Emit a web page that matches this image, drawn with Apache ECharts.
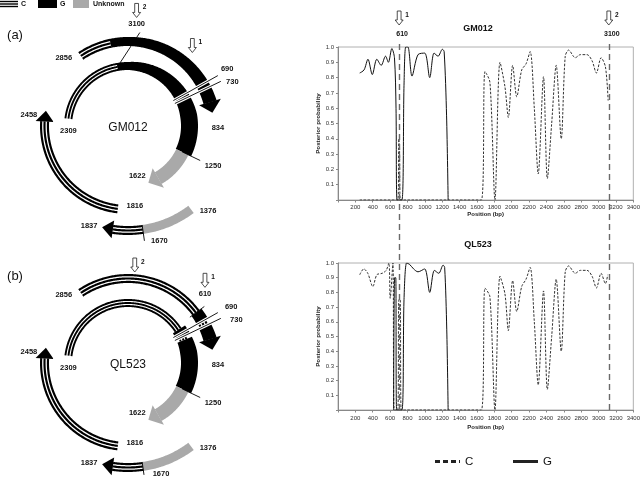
<!DOCTYPE html>
<html>
<head>
<meta charset="utf-8">
<script src="https://cdn.jsdelivr.net/npm/echarts@6/dist/echarts.min.js"></script>
<style>
html,body{margin:0;padding:0;background:#fff;}
#chart{width:643px;height:479px;}
</style>
</head>
<body>
<div id="chart"></div>
<script>
// ================= DATA: posterior probability curves =================
const gmC_pos  = [250, 690, 700, 708, 718, 1650, 1692, 1749, 1807, 1865, 1922, 1961, 2011, 2058, 2115, 2165, 2212, 2260, 2305, 2366, 2410, 2460, 2512, 2570, 2616, 2655, 2732, 2790, 2867, 2925, 2975, 3029, 3079, 3110];
const gmC_prob = [0, 0, 0.40, 0.35, 0, 0, 0.84, 0.77, 0, 0.90, 0.74, 0.54, 0.88, 0.675, 0.85, 0.89, 0.97, 0.60, 0.17, 0.806, 0.14, 0.50, 0.88, 0.40, 0.94, 0.98, 0.93, 0.95, 0.95, 0.91, 0.83, 0.93, 0.87, 0.65];
const gmG_pos  = [250, 300, 345, 395, 447, 497, 547, 580, 620, 650, 668, 680, 735, 760, 780, 805, 852, 921, 998, 1056, 1106, 1152, 1202, 1222, 1250, 1268];
const gmG_prob = [0.83, 0.85, 0.92, 0.82, 0.92, 0.88, 0.94, 0.90, 0.99, 0.93, 0.60, 0, 0, 0.75, 1.0, 1.0, 0.81, 0.95, 0.96, 0.80, 0.96, 0.94, 0.985, 0.97, 0.55, 0];
const qlC_pos  = [250, 297, 343, 401, 447, 509, 555, 586, 601, 632, 648, 688, 700, 716, 728, 1650, 1692, 1749, 1807, 1865, 1922, 1961, 2011, 2058, 2115, 2165, 2212, 2260, 2305, 2366, 2410, 2460, 2512, 2570, 2616, 2655, 2732, 2790, 2867, 2925, 2975, 3029, 3079, 3105];
const qlC_prob = [0.92, 0.96, 0.93, 0.84, 0.92, 0.93, 0.95, 1.0, 0.76, 1.0, 0, 0, 0.75, 0.75, 0, 0, 0.83, 0.77, 0, 0.91, 0.79, 0.54, 0.88, 0.67, 0.84, 0.89, 0.97, 0.60, 0.17, 0.81, 0.14, 0.50, 0.89, 0.40, 0.94, 0.98, 0.93, 0.95, 0.95, 0.91, 0.83, 0.93, 0.86, 0.92];
const qlG_pos  = [640, 652, 665, 675, 735, 760, 790, 825, 870, 921, 998, 1056, 1110, 1160, 1210, 1228, 1252, 1268];
const qlG_prob = [0, 0.90, 0.90, 0, 0, 0.75, 1.0, 0.99, 0.96, 0.94, 0.96, 0.80, 0.95, 0.93, 0.985, 0.97, 0.55, 0];

const xTickLabels = [200, 400, 600, 800, 1000, 1200, 1400, 1600, 1800, 2000, 2200, 2400, 2600, 2800, 3000, 3200, 3400];
const yTickLabels = ['0.1', '0.2', '0.3', '0.4', '0.5', '0.6', '0.7', '0.8', '0.9', '1.0'];
const breakpointPos  = [700, 3100];
const breakpointText = ['610', '3100'];
const breakpointNum  = ['1', '2'];
const sampleNames = ['GM012', 'QL523'];

// ================= DATA: genome maps (start, end, type) =================
const GENOME_LEN = 3215;
const gmOuter  = [[2856, 3100, 'C'], [3100, 834, 'G']];
const gmInner  = [[2309, 3100, 'C'], [3100, 1250, 'G'], [1250, 1622, 'U']];
const gmLeft   = [[1816, 2458, 'C']];
const gmBottom = [[1376, 1670, 'U'], [1670, 1837, 'C']];
const qlOuter  = [[2856, 610, 'C'], [610, 690, 'G'], [690, 730, 'C'], [730, 834, 'G']];
const qlInner  = [[2309, 610, 'C'], [610, 690, 'G'], [690, 730, 'C'], [730, 1250, 'G'], [1250, 1622, 'U']];
const qlLeft   = [[1816, 2458, 'C']];
const qlBottom = [[1376, 1670, 'U'], [1670, 1837, 'C']];

// ================= LAYOUT =================
const FONT = '"Liberation Sans", Arial, sans-serif';
const RING_KEYS = ['outer', 'inner', 'left', 'bottom'];
// angular scale of each ring of the (schematic) map: deg per bp, anchored at a position/angle
const RINGS = {
  outer:  {rIn: 80,  rOut: 89,  grow: [1.5, 3.5], uPad: [0, 0],   slope: 0.09025, aPos: 3547,   aAng: 388.4},
  inner:  {rIn: 56,  rOut: 64,  grow: [3, 6],     uPad: [2.5, 3], slope: 0.0921,  aPos: 3723,   aAng: 407.2},
  left:   {rIn: 79,  rOut: 88,  grow: [0, 0],     uPad: [0, 0],   slope: 0.134,   aPos: 1816,   aAng: 187},
  bottom: {rIn: 100, rOut: 109, grow: [0, 0],     uPad: [0, 0],   slope: 0.0985,  aPos: 1627.7, aAng: 167.7}
};
const ARROW_LEN = 11, ARROW_FLARE = 4.5;

const MAPS = [
  {name: sampleNames[0], tag: '(a)', tagPos: [15, 35], center: [128, 126],
   rings: {outer: gmOuter, inner: gmInner, left: gmLeft, bottom: gmBottom},
   ann: [
     {ring: 'inner', kind: 'leader', pos: 3100, r0: 60, r1: 97, dx1: 29, dy1: 2},
     {ring: 'outer', kind: 'leader', pos: 690, r0: 52, r1: 103, white: true},
     {ring: 'outer', kind: 'leader', pos: 730, r0: 52, r1: 103, white: true},
     {ring: 'inner', kind: 'leader', pos: 1250, r0: 60, r1: 80},
     {ring: 'bottom', kind: 'leader', pos: 1670, r0: 100, r1: 116},
     {ring: 'outer', kind: 'label', pos: 2856, r: 84.5, dx: -17, dy: 2},
     {ring: 'outer', kind: 'label', pos: 3100, r: 103, dx: 30, dy: -1},
     {ring: 'outer', kind: 'label', pos: 690, r: 108, dx: 5, dy: -4},
     {ring: 'outer', kind: 'label', pos: 730, r: 108, dx: 7, dy: 3},
     {ring: 'outer', kind: 'label', pos: 834, tip: true, r: 86, dx: 5, dy: 15},
     {ring: 'inner', kind: 'label', pos: 1250, r: 92, dx: 2},
     {ring: 'inner', kind: 'label', pos: 1622, tip: true, r: 60, dx: -11, dy: -7},
     {ring: 'inner', kind: 'label', pos: 2309, r: 60, dy: 12},
     {ring: 'left', kind: 'label', pos: 2458, tip: true, r: 83.5, dx: -17, dy: 4},
     {ring: 'left', kind: 'label', pos: 1816, r: 83.5, dx: 17, dy: -3},
     {ring: 'bottom', kind: 'label', pos: 1376, r: 104.5, dx: 17, dy: 2},
     {ring: 'bottom', kind: 'label', pos: 1837, tip: true, r: 104.5, dx: -13, dy: -1},
     {ring: 'bottom', kind: 'label', pos: 1670, r: 116, dx: 15, dy: 0},
     {ring: 'outer', kind: 'arrow', pos: 3100, r: 113, dx: 32, dy: 2, num: breakpointNum[1]},
     {ring: 'outer', kind: 'arrow', pos: 610, r: 100, dx: -16, dy: -14, num: breakpointNum[0]}
   ]},
  {name: sampleNames[1], tag: '(b)', tagPos: [15, 276], center: [128, 363],
   rings: {outer: qlOuter, inner: qlInner, left: qlLeft, bottom: qlBottom},
   ann: [
     {ring: 'outer', kind: 'leader', pos: 610, r0: 77, r1: 95},
     {ring: 'outer', kind: 'leader', pos: 690, r0: 52, r1: 103, white: true},
     {ring: 'outer', kind: 'leader', pos: 730, r0: 52, r1: 103, white: true},
     {ring: 'inner', kind: 'leader', pos: 1250, r0: 60, r1: 80},
     {ring: 'bottom', kind: 'leader', pos: 1670, r0: 100, r1: 113},
     {ring: 'outer', kind: 'label', pos: 2856, r: 84.5, dx: -17, dy: 2},
     {ring: 'outer', kind: 'label', pos: 610, r: 102, dx: -5, dy: -8},
     {ring: 'outer', kind: 'label', pos: 690, r: 108, dx: 9, dy: -3},
     {ring: 'outer', kind: 'label', pos: 730, r: 108, dx: 11, dy: 4},
     {ring: 'outer', kind: 'label', pos: 834, tip: true, r: 86, dx: 5, dy: 15},
     {ring: 'inner', kind: 'label', pos: 1250, r: 92, dx: 2},
     {ring: 'inner', kind: 'label', pos: 1622, tip: true, r: 60, dx: -11, dy: -7},
     {ring: 'inner', kind: 'label', pos: 2309, r: 60, dy: 12},
     {ring: 'left', kind: 'label', pos: 2458, tip: true, r: 83.5, dx: -17, dy: 4},
     {ring: 'left', kind: 'label', pos: 1816, r: 83.5, dx: 17, dy: -3},
     {ring: 'bottom', kind: 'label', pos: 1376, r: 104.5, dx: 17, dy: 2},
     {ring: 'bottom', kind: 'label', pos: 1837, tip: true, r: 104.5, dx: -13, dy: -1},
     {ring: 'bottom', kind: 'label', pos: 1670, r: 113, dx: 17, dy: -1},
     {ring: 'outer', kind: 'arrow', pos: 3100, r: 93, dx: 26, num: breakpointNum[1]},
     {ring: 'outer', kind: 'arrow', pos: 610, r: 102, dx: -5, dy: -15, num: breakpointNum[0]}
   ]}
];

// ================= helpers =================
function axisRange(ring) {
  const span = 360 / ring.slope;
  const min = ring.aPos - 180 / ring.slope;
  let start = 270 - ring.aAng;
  while (start < 0) start += 360;
  while (start >= 360) start -= 360;
  return {min: min, max: min + span, startAngle: start};
}
function unwrap(p, rng) {
  let v = p;
  while (v < rng.min) v += GENOME_LEN;
  while (v > rng.max) v -= GENOME_LEN;
  return v;
}
function taperF(a) {
  let th = a + Math.PI / 2;
  th = Math.atan2(Math.sin(th), Math.cos(th));
  return Math.max(0, Math.min(1, th / (80 * Math.PI / 180)));
}
function band(cx, cy, a0, a1, fin, fout, fill) {
  const n = Math.max(6, Math.ceil((a1 - a0) / 0.012));
  const pts = [];
  for (let i = 0; i <= n; i++) { const a = a0 + (a1 - a0) * i / n; const r = fout(a); pts.push([cx + r * Math.cos(a), cy + r * Math.sin(a)]); }
  for (let i = n; i >= 0; i--) { const a = a0 + (a1 - a0) * i / n; const r = fin(a); pts.push([cx + r * Math.cos(a), cy + r * Math.sin(a)]); }
  return {type: 'polygon', shape: {points: pts}, style: {fill: fill}};
}
function downArrow(tx, ty) {
  return {type: 'polygon', shape: {points: [[tx - 1.9, ty - 14], [tx + 1.9, ty - 14], [tx + 1.9, ty - 5], [tx + 4, ty - 5], [tx, ty], [tx - 4, ty - 5], [tx - 1.9, ty - 5]]},
          style: {fill: '#fff', stroke: '#222', lineWidth: 0.8}};
}
function txt(x, y, s, font, align) {
  return {type: 'text', x: x, y: y, style: {text: s, fill: '#111', font: font, align: align || 'center', verticalAlign: 'middle', textAlign: align || 'center', textVerticalAlign: 'middle'}};
}
const STRIPES = [[0, 0.24], [0.38, 0.62], [0.76, 1]];
function makeRingRender(segs, ring) {
  return function (params, api) {
    const seg = segs[params.dataIndex];
    const cx = params.coordSys.cx, cy = params.coordSys.cy;
    const ang = v => { const p = api.coord([50, v]); return Math.atan2(p[1] - cy, p[0] - cx); };
    const a0 = ang(seg.v0);
    let a1 = ang(seg.v1);
    while (a1 <= a0) a1 += 2 * Math.PI;
    const g = seg.t === 'G' ? ring.grow : [0, 0];
    const pad = seg.t === 'U' ? ring.uPad : [0, 0];
    const rIn = a => ring.rIn - g[0] * taperF(a) - pad[0];
    const rOut = a => ring.rOut + g[1] * taperF(a) + pad[1];
    const kids = [];
    if (seg.t === 'C') {
      STRIPES.forEach(s => {
        kids.push(band(cx, cy, a0, a1 + 0.003,
          a => ring.rIn + (ring.rOut - ring.rIn) * s[0],
          a => ring.rIn + (ring.rOut - ring.rIn) * s[1], '#000'));
      });
    } else {
      kids.push(band(cx, cy, a0, a1 + 0.003, rIn, rOut, seg.t === 'U' ? '#a9a9a9' : '#000'));
    }
    if (seg.arrow) {
      const ri = rIn(a1), ro = rOut(a1), rm = (ri + ro) / 2;
      const tip = a1 + ARROW_LEN / rm;
      const P = (r, a) => [cx + r * Math.cos(a), cy + r * Math.sin(a)];
      kids.push({type: 'polygon', shape: {points: [P(ro + ARROW_FLARE, a1), P(rm, tip), P(ri - ARROW_FLARE, a1)]},
                 style: {fill: seg.t === 'U' ? '#a9a9a9' : '#000'}});
    }
    return {type: 'group', children: kids};
  };
}
const LABEL_FONT = 'bold 7.5px ' + FONT;
function makeAnnRender(items) {
  return function (params, api) {
    const it = items[params.dataIndex];
    const cx = params.coordSys.cx, cy = params.coordSys.cy;
    const p = api.coord([50, it.v]);
    let a = Math.atan2(p[1] - cy, p[0] - cx);
    if (it.tip) a += ARROW_LEN / it.r;
    const P = r => [cx + r * Math.cos(a), cy + r * Math.sin(a)];
    const dx = it.dx || 0, dy = it.dy || 0;
    const kids = [];
    if (it.kind === 'leader') {
      const A = P(it.r0), B = P(it.r1);
      B[0] += it.dx1 || 0; B[1] += it.dy1 || 0;
      if (it.white) kids.push({type: 'line', shape: {x1: A[0], y1: A[1], x2: B[0], y2: B[1]}, style: {stroke: '#fff', lineWidth: 3.2}});
      kids.push({type: 'line', shape: {x1: A[0], y1: A[1], x2: B[0], y2: B[1]}, style: {stroke: '#000', lineWidth: 0.9}});
    } else if (it.kind === 'label') {
      const Q = P(it.r);
      kids.push(txt(Q[0] + dx, Q[1] + dy, String(it.pos), LABEL_FONT));
    } else if (it.kind === 'arrow') {
      const Q = P(it.r);
      kids.push(downArrow(Q[0] + dx, Q[1] + dy));
      kids.push(txt(Q[0] + dx + 8, Q[1] + dy - 10, it.num, 'bold 6.5px ' + FONT));
    }
    return {type: 'group', children: kids};
  };
}

// ================= build option =================
const polar = [], angleAxis = [], radiusAxis = [], series = [];
const graphic = [];
MAPS.forEach((m, mi) => {
  RING_KEYS.forEach((k, ki) => {
    const idx = polar.length;
    const ring = RINGS[k];
    const rng = axisRange(ring);
    polar.push({center: m.center, radius: [0, 130]});
    angleAxis.push({polarIndex: idx, type: 'value', min: rng.min, max: rng.max, startAngle: rng.startAngle, clockwise: true, show: false,
      axisLine: {show: false}, axisTick: {show: false}, axisLabel: {show: false}, splitLine: {show: false}});
    radiusAxis.push({polarIndex: idx, type: 'value', min: 0, max: 130, show: false,
      axisLine: {show: false}, axisTick: {show: false}, axisLabel: {show: false}, splitLine: {show: false}});
    const src = m.rings[k];
    const segs = src.map((s, i) => ({v0: unwrap(s[0], rng), v1: unwrap(s[1], rng), t: s[2], arrow: i === src.length - 1}));
    series.push({type: 'custom', coordinateSystem: 'polar', polarIndex: idx, silent: true, z: 2,
      data: segs.map(s => [0, s.v0]), renderItem: makeRingRender(segs, ring)});
    const items = m.ann.filter(a => a.ring === k).map(a => Object.assign({}, a, {v: unwrap(a.pos, rng)}));
    if (items.length) {
      series.push({type: 'custom', coordinateSystem: 'polar', polarIndex: idx, silent: true, z: 4,
        data: items.map(a => [0, a.v]), renderItem: makeAnnRender(items)});
    }
  });
  graphic.push(txt(m.center[0], m.center[1] + 2, m.name, '12px ' + FONT));
  graphic.push(txt(m.tagPos[0], m.tagPos[1], m.tag, '13px ' + FONT));
});

// top-left legend of the maps
[1.5, 4, 6.5].forEach(y => graphic.push({type: 'line', shape: {x1: 0, y1: y, x2: 18, y2: y}, style: {stroke: '#000', lineWidth: 1.4}}));
graphic.push(txt(21, 4.5, 'C', 'bold 7px ' + FONT, 'left'));
graphic.push({type: 'rect', shape: {x: 38, y: 0, width: 19, height: 8}, style: {fill: '#000'}});
graphic.push(txt(60, 4.5, 'G', 'bold 7px ' + FONT, 'left'));
graphic.push({type: 'rect', shape: {x: 73, y: 0, width: 16, height: 8}, style: {fill: '#a9a9a9'}});
graphic.push(txt(93, 4.5, 'Unknown', 'bold 7px ' + FONT, 'left'));

// chart titles
graphic.push(txt(478, 29, sampleNames[0], 'bold 9px ' + FONT));
graphic.push(txt(478, 245, sampleNames[1], 'bold 9px ' + FONT));

// bottom legend
graphic.push({type: 'line', shape: {x1: 435, y1: 461.5, x2: 460, y2: 461.5}, style: {stroke: '#222', lineWidth: 3, lineDash: [5, 3]}});
graphic.push(txt(465, 462, 'C', '11.5px ' + FONT, 'left'));
graphic.push({type: 'line', shape: {x1: 513, y1: 461.5, x2: 538, y2: 461.5}, style: {stroke: '#222', lineWidth: 3}});
graphic.push(txt(543, 462, 'G', '11.5px ' + FONT, 'left'));

const pairs = (xs, ys) => xs.map((x, i) => [x, ys[i]]);
function xAx(gi, margin, gap) {
  return {gridIndex: gi, type: 'value', min: 0, max: 3400, interval: 200,
    name: 'Position (bp)', nameLocation: 'middle', nameGap: gap,
    nameTextStyle: {fontFamily: FONT, fontWeight: 'bold', fontSize: 6, color: '#222'},
    axisLine: {show: true, lineStyle: {color: '#888', width: 1}},
    axisTick: {show: true, length: 2.5, lineStyle: {color: '#888'}},
    axisLabel: {fontFamily: FONT, fontSize: 6, color: '#333', margin: margin,
      formatter: v => (xTickLabels.indexOf(v) >= 0 ? String(v) : '')},
    splitLine: {show: false}};
}
function yAx(gi) {
  return {gridIndex: gi, type: 'value', min: 0, max: 1, interval: 0.1,
    name: 'Posterior probability', nameLocation: 'middle', nameGap: 17,
    nameTextStyle: {fontFamily: FONT, fontWeight: 'bold', fontSize: 6.2, color: '#222'},
    axisLine: {show: true, lineStyle: {color: '#888', width: 1}},
    axisTick: {show: true, length: 2, lineStyle: {color: '#888'}},
    axisLabel: {fontFamily: FONT, fontSize: 6, color: '#333', margin: 4,
      formatter: v => { const i = Math.round(v * 10); return i > 0 ? yTickLabels[i - 1] : ''; }},
    splitLine: {show: false}};
}
const lineC = {color: '#333', width: 1, type: [2.5, 1.5]};
const lineG = {color: '#111', width: 1};
series.push({type: 'line', name: 'C', xAxisIndex: 0, yAxisIndex: 0, data: pairs(gmC_pos, gmC_prob), smooth: 0.3, symbol: 'none', lineStyle: lineC, z: 3});
series.push({type: 'line', name: 'G', xAxisIndex: 0, yAxisIndex: 0, data: pairs(gmG_pos, gmG_prob), smooth: 0.3, symbol: 'none', lineStyle: lineG, z: 3});
series.push({type: 'line', name: 'C', xAxisIndex: 1, yAxisIndex: 1, data: pairs(qlC_pos, qlC_prob), smooth: 0.3, symbol: 'none', lineStyle: lineC, z: 3});
series.push({type: 'line', name: 'G', xAxisIndex: 1, yAxisIndex: 1, data: pairs(qlG_pos, qlG_prob), smooth: 0.3, symbol: 'none', lineStyle: lineG, z: 3});
// breakpoints spanning both charts
series.push({type: 'line', name: 'bp', xAxisIndex: 2, yAxisIndex: 2, data: [], symbol: 'none',
  markLine: {silent: true, symbol: ['none', 'none'], label: {show: false}, animation: false,
    lineStyle: {color: '#6a6a6a', width: 1.4, type: [6, 4]},
    data: breakpointPos.map(p => ({xAxis: p}))}});
series.push({type: 'custom', xAxisIndex: 2, yAxisIndex: 2, silent: true, z: 5,
  data: breakpointPos.map(p => [p, 1]),
  renderItem: (params, api) => {
    const i = params.dataIndex;
    const pt = api.coord([api.value(0), 1]);
    return {type: 'group', children: [
      downArrow(pt[0], pt[1] - 17),
      txt(pt[0] + 8, pt[1] - 27, breakpointNum[i], 'bold 6.5px ' + FONT),
      txt(pt[0] + 3, pt[1] - 8, breakpointText[i], 'bold 7px ' + FONT)
    ]};
  }});

const option = {
  animation: false,
  backgroundColor: '#fff',
  grid: [
    {left: 338, top: 47, width: 297, height: 153, show: true, borderColor: '#b0b0b0', borderWidth: 1},
    {left: 338, top: 263, width: 297, height: 147, show: true, borderColor: '#b0b0b0', borderWidth: 1},
    {left: 338, top: 42, width: 297, height: 368}
  ],
  xAxis: [xAx(0, 4, 11), xAx(1, 5.5, 14), {gridIndex: 2, type: 'value', min: 0, max: 3400, show: false}],
  yAxis: [yAx(0), yAx(1), {gridIndex: 2, type: 'value', min: 0, max: 1, show: false}],
  polar: polar, angleAxis: angleAxis, radiusAxis: radiusAxis,
  graphic: graphic,
  series: series
};
const chart = echarts.init(document.getElementById('chart'), null, {renderer: 'canvas'});
chart.setOption(option);
</script>
</body>
</html>
